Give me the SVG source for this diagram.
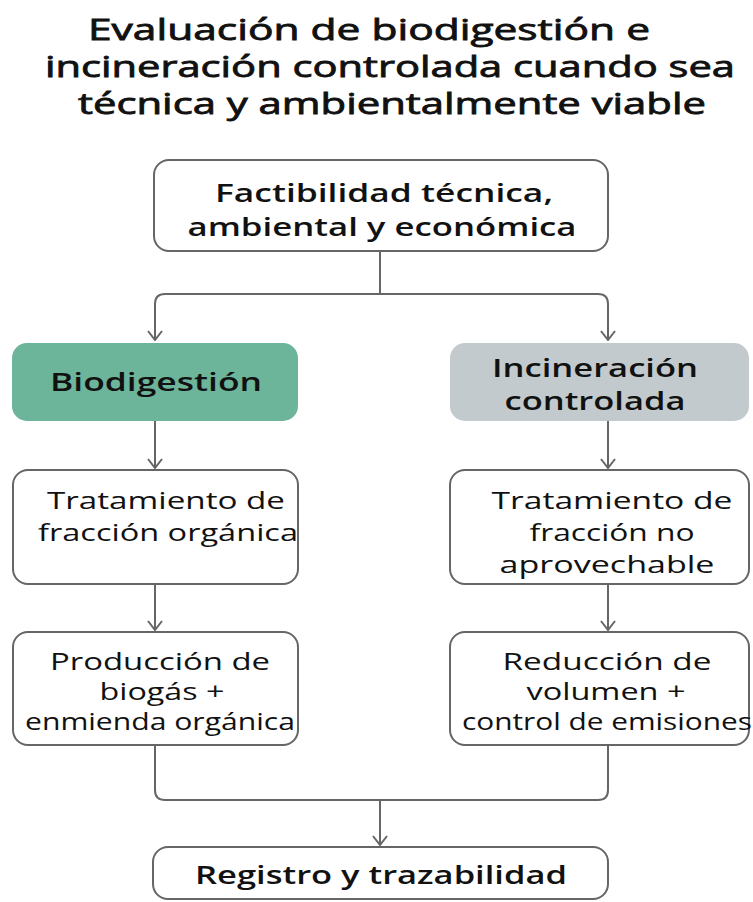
<svg xmlns="http://www.w3.org/2000/svg" width="753" height="902" viewBox="0 0 753 902">
<defs>
<style>
.title{font-family:"Open Sans","Noto Sans",sans-serif;font-size:29px;font-weight:400;fill:#111;stroke:#111;stroke-width:0.8;text-anchor:middle}
.box{fill:#fff;stroke:#666;stroke-width:2}
.bt{font-family:"Open Sans","Noto Sans",sans-serif;font-size:26px;font-weight:600;fill:#111;text-anchor:middle}
.bt2{font-family:"Open Sans","Noto Sans",sans-serif;font-size:25px;font-weight:600;fill:#111;text-anchor:middle}
.rt{font-family:"Open Sans","Noto Sans",sans-serif;font-size:24px;font-weight:400;fill:#111;text-anchor:middle}
.conn{fill:none;stroke:#666;stroke-width:2}
</style>
<marker id="ah" viewBox="-1 -8 11 16" refX="9" refY="0" markerWidth="11" markerHeight="16" markerUnits="userSpaceOnUse" orient="auto">
<path d="M0,-7 L9,0 L0,7" fill="none" stroke="#666" stroke-width="2"/>
</marker>
</defs>
<rect width="753" height="902" fill="#fff"/>
<g id="title">
<text class="title" x="369" y="40" textLength="562" lengthAdjust="spacingAndGlyphs">Evaluación de biodigestión e</text>
<text class="title" x="390" y="77" textLength="690" lengthAdjust="spacingAndGlyphs">incineración controlada cuando sea</text>
<text class="title" x="392" y="114" textLength="628" lengthAdjust="spacingAndGlyphs">técnica y ambientalmente viable</text>
</g>
<g id="connectors">
<path class="conn" d="M380,251 V294"/>
<path class="conn" d="M155,340 V304 Q155,294 165,294 H598 Q608,294 608,304 V340" marker-end="url(#ah)"/>
<path class="conn" d="M155,304 V340" marker-end="url(#ah)"/>
<path class="conn" d="M155,421 V468" marker-end="url(#ah)"/>
<path class="conn" d="M608,421 V468" marker-end="url(#ah)"/>
<path class="conn" d="M155,584 V630" marker-end="url(#ah)"/>
<path class="conn" d="M608,584 V630" marker-end="url(#ah)"/>
<path class="conn" d="M155,745 V790 Q155,800 165,800 H598 Q608,800 608,790 V745"/>
<path class="conn" d="M380,800 V845" marker-end="url(#ah)"/>
</g>
<g id="factibilidad">
<rect class="box" x="154" y="160" width="454" height="91" rx="15"/>
<text class="bt2" x="384" y="202" textLength="338" lengthAdjust="spacingAndGlyphs">Factibilidad técnica,</text>
<text class="bt2" x="382" y="236" textLength="389" lengthAdjust="spacingAndGlyphs">ambiental y económica</text>
</g>
<g id="biodigestion">
<rect x="12" y="343" width="286" height="78" rx="15" fill="#6cb49a"/>
<text class="bt" x="156" y="391" textLength="212" lengthAdjust="spacingAndGlyphs">Biodigestión</text>
</g>
<g id="incineracion">
<rect x="450" y="343" width="299" height="78" rx="15" fill="#c2cacd"/>
<text class="bt" x="595" y="377" textLength="206" lengthAdjust="spacingAndGlyphs">Incineración</text>
<text class="bt" x="595" y="410" textLength="181" lengthAdjust="spacingAndGlyphs">controlada</text>
</g>
<g id="tratamiento-organica">
<rect class="box" x="13" y="470" width="285" height="114" rx="15"/>
<text class="rt" x="166" y="509" textLength="238" lengthAdjust="spacingAndGlyphs">Tratamiento de</text>
<text class="rt" x="168" y="541" textLength="260" lengthAdjust="spacingAndGlyphs">fracción orgánica</text>
</g>
<g id="tratamiento-no-aprovechable">
<rect class="box" x="450" y="470" width="299" height="114" rx="15"/>
<text class="rt" x="612" y="509" textLength="241" lengthAdjust="spacingAndGlyphs">Tratamiento de</text>
<text class="rt" x="612" y="541" textLength="165" lengthAdjust="spacingAndGlyphs">fracción no</text>
<text class="rt" x="607" y="573" textLength="215" lengthAdjust="spacingAndGlyphs">aprovechable</text>
</g>
<g id="produccion">
<rect class="box" x="13" y="632" width="285" height="113" rx="15"/>
<text class="rt" x="160" y="670" textLength="220" lengthAdjust="spacingAndGlyphs">Producción de</text>
<text class="rt" x="162" y="700" textLength="125" lengthAdjust="spacingAndGlyphs">biogás +</text>
<text class="rt" x="160" y="730" textLength="270" lengthAdjust="spacingAndGlyphs">enmienda orgánica</text>
</g>
<g id="reduccion">
<rect class="box" x="450" y="632" width="299" height="113" rx="15"/>
<text class="rt" x="607" y="670" textLength="209" lengthAdjust="spacingAndGlyphs">Reducción de</text>
<text class="rt" x="606" y="700" textLength="159" lengthAdjust="spacingAndGlyphs">volumen +</text>
<text class="rt" x="607" y="730" textLength="290" lengthAdjust="spacingAndGlyphs">control de emisiones</text>
</g>
<g id="registro">
<rect class="box" x="153" y="847" width="455" height="52" rx="15"/>
<text class="bt" x="381" y="884" textLength="372" lengthAdjust="spacingAndGlyphs">Registro y trazabilidad</text>
</g>
</svg>
